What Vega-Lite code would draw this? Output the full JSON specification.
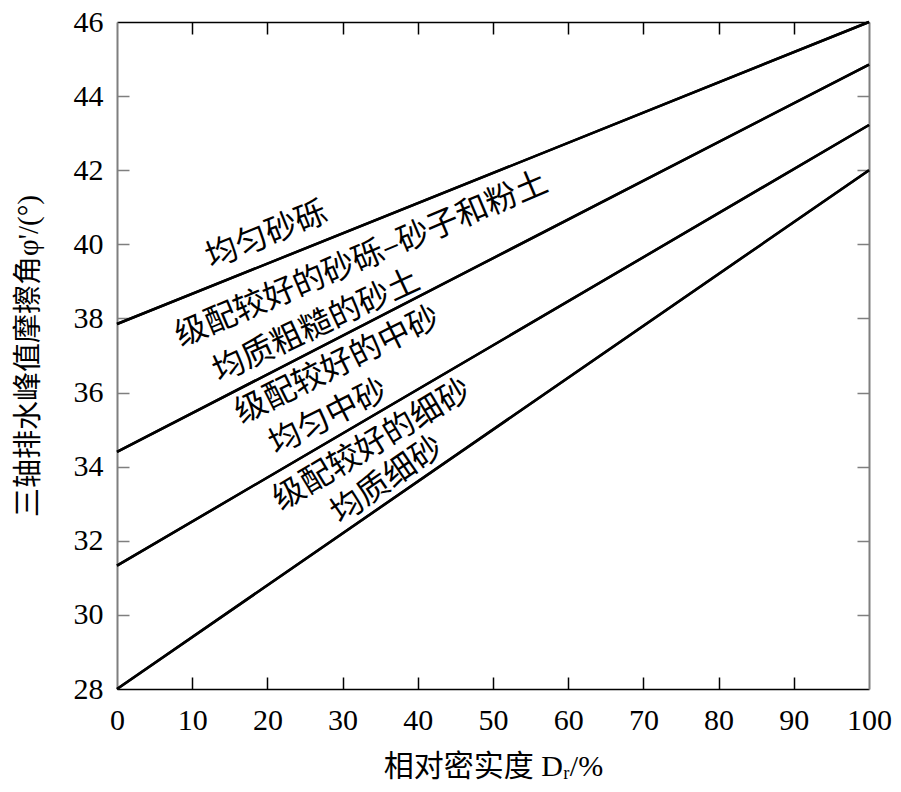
{
  "$schema": "https://vega.github.io/schema/vega-lite/v6.json",
  "width": 752,
  "height": 667,
  "autosize": {"type": "none"},
  "padding": {"left": 117, "top": 22, "right": 32, "bottom": 103},
  "background": "white",
  "config": {"view": {"stroke": null}},
  "datasets": {
    "lines": [
      {"s": "a", "x": 0, "y": 37.85}, {"s": "a", "x": 100, "y": 46},
      {"s": "b", "x": 0, "y": 34.4}, {"s": "b", "x": 100, "y": 44.85},
      {"s": "c", "x": 0, "y": 31.33}, {"s": "c", "x": 100, "y": 43.22},
      {"s": "d", "x": 0, "y": 28}, {"s": "d", "x": 100, "y": 42}
    ],
    "labels": [
      {"label": "均匀砂砾", "x": 19.9, "y": 40.25},
      {"label": "级配较好的砂砾–砂子和粉土", "x": 32.5, "y": 39.6},
      {"label": "均质粗糙的砂土", "x": 26.5, "y": 37.8},
      {"label": "级配较好的中砂", "x": 29.3, "y": 36.74},
      {"label": "均匀中砂", "x": 28.1, "y": 35.34},
      {"label": "级配较好的细砂", "x": 33.9, "y": 34.59},
      {"label": "均质细砂", "x": 35.9, "y": 33.64}
    ]
  },
  "layer": [
    {
      "data": {"name": "lines"},
      "mark": {"type": "line", "color": "black", "strokeWidth": 2.5},
      "encoding": {
        "x": {"field": "x", "type": "quantitative", "scale": {"domain": [0, 100], "nice": false},
          "axis": {"orient": "bottom", "values": [0,10,20,30,40,50,60,70,80,90,100], "grid": false, "ticks": false,
            "domainColor": "black", "domainWidth": 1.5,
            "labelFont": "Liberation Serif", "labelFontSize": 30, "labelColor": "black", "labelPadding": 16, "labelFlush": false,
            "title": "相对密实度 Dᵣ/%", "titleFont": "Liberation Serif, Noto Sans CJK SC", "titleFontSize": 30, "titleFontWeight": "normal", "titleColor": "black",
            "titleY": 77, "titleBaseline": "middle"}},
        "y": {"field": "y", "type": "quantitative", "scale": {"domain": [28, 46], "nice": false, "zero": false},
          "axis": {"orient": "left", "values": [28,30,32,34,36,38,40,42,44,46], "grid": false, "ticks": false,
            "domainColor": "#7f7f7f", "domainWidth": 2,
            "labelFont": "Liberation Serif", "labelFontSize": 30, "labelColor": "black", "labelPadding": 14, "labelFlush": false,
            "title": "三轴排水峰值摩擦角φ'/(°)", "titleFont": "Liberation Serif, Noto Sans CJK SC", "titleFontSize": 29, "titleFontWeight": "normal", "titleColor": "black",
            "titleX": -89, "titleBaseline": "middle"}},
        "detail": {"field": "s", "type": "nominal"}
      }
    },
    {
      "data": {"name": "lines"},
      "mark": {"type": "line", "color": "black", "strokeWidth": 2.5},
      "encoding": {
        "x": {"field": "x", "type": "quantitative",
          "axis": {"orient": "top", "grid": false, "labels": false, "ticks": false, "title": null,
            "domainColor": "black", "domainWidth": 1.5}},
        "y": {"field": "y", "type": "quantitative",
          "axis": {"orient": "right", "grid": false, "labels": false, "ticks": false, "title": null,
            "domainColor": "#7f7f7f", "domainWidth": 2}},
        "detail": {"field": "s", "type": "nominal"}
      }
    },
    {
      "data": {"name": "lines"},
      "mark": {"type": "line", "strokeOpacity": 0},
      "encoding": {
        "x": {"field": "x", "type": "quantitative",
          "axis": {"orient": "bottom", "offset": -12, "values": [10,20,30,40,50,60,70,80,90], "grid": false, "labels": false, "domain": false, "title": null,
            "tickColor": "black", "tickWidth": 1.5, "tickSize": 12}},
        "y": {"field": "y", "type": "quantitative",
          "axis": {"orient": "left", "offset": -12, "values": [30,32,34,36,38,40,42,44], "grid": false, "labels": false, "domain": false, "title": null,
            "tickColor": "#7f7f7f", "tickWidth": 1.5, "tickSize": 12}},
        "detail": {"field": "s", "type": "nominal"}
      }
    },
    {
      "data": {"name": "lines"},
      "mark": {"type": "line", "strokeOpacity": 0},
      "encoding": {
        "x": {"field": "x", "type": "quantitative",
          "axis": {"orient": "top", "offset": -12, "values": [10,20,30,40,50,60,70,80,90], "grid": false, "labels": false, "domain": false, "title": null,
            "tickColor": "black", "tickWidth": 1.5, "tickSize": 12}},
        "y": {"field": "y", "type": "quantitative",
          "axis": {"orient": "right", "offset": -12, "values": [30,32,34,36,38,40,42,44], "grid": false, "labels": false, "domain": false, "title": null,
            "tickColor": "#7f7f7f", "tickWidth": 1.5, "tickSize": 12}},
        "detail": {"field": "s", "type": "nominal"}
      }
    },
    {
      "data": {"name": "labels"},
      "transform": [{"filter": "datum.label === '均匀砂砾'"}],
      "mark": {"type": "text", "angle": 338, "font": "Noto Sans CJK SC", "fontSize": 32, "align": "center", "baseline": "middle", "color": "black"},
      "encoding": {"x": {"field": "x", "type": "quantitative", "axis": null}, "y": {"field": "y", "type": "quantitative", "axis": null}, "text": {"field": "label"}}
    },
    {
      "data": {"name": "labels"},
      "transform": [{"filter": "datum.label === '级配较好的砂砾–砂子和粉土'"}],
      "mark": {"type": "text", "angle": 337, "font": "Noto Sans CJK SC", "fontSize": 32, "align": "center", "baseline": "middle", "color": "black"},
      "encoding": {"x": {"field": "x", "type": "quantitative", "axis": null}, "y": {"field": "y", "type": "quantitative", "axis": null}, "text": {"field": "label"}}
    },
    {
      "data": {"name": "labels"},
      "transform": [{"filter": "datum.label === '均质粗糙的砂土'"}],
      "mark": {"type": "text", "angle": 335, "font": "Noto Sans CJK SC", "fontSize": 32, "align": "center", "baseline": "middle", "color": "black"},
      "encoding": {"x": {"field": "x", "type": "quantitative", "axis": null}, "y": {"field": "y", "type": "quantitative", "axis": null}, "text": {"field": "label"}}
    },
    {
      "data": {"name": "labels"},
      "transform": [{"filter": "datum.label === '级配较好的中砂'"}],
      "mark": {"type": "text", "angle": 333.5, "font": "Noto Sans CJK SC", "fontSize": 32, "align": "center", "baseline": "middle", "color": "black"},
      "encoding": {"x": {"field": "x", "type": "quantitative", "axis": null}, "y": {"field": "y", "type": "quantitative", "axis": null}, "text": {"field": "label"}}
    },
    {
      "data": {"name": "labels"},
      "transform": [{"filter": "datum.label === '均匀中砂'"}],
      "mark": {"type": "text", "angle": 333, "font": "Noto Sans CJK SC", "fontSize": 32, "align": "center", "baseline": "middle", "color": "black"},
      "encoding": {"x": {"field": "x", "type": "quantitative", "axis": null}, "y": {"field": "y", "type": "quantitative", "axis": null}, "text": {"field": "label"}}
    },
    {
      "data": {"name": "labels"},
      "transform": [{"filter": "datum.label === '级配较好的细砂'"}],
      "mark": {"type": "text", "angle": 329, "font": "Noto Sans CJK SC", "fontSize": 32, "align": "center", "baseline": "middle", "color": "black"},
      "encoding": {"x": {"field": "x", "type": "quantitative", "axis": null}, "y": {"field": "y", "type": "quantitative", "axis": null}, "text": {"field": "label"}}
    },
    {
      "data": {"name": "labels"},
      "transform": [{"filter": "datum.label === '均质细砂'"}],
      "mark": {"type": "text", "angle": 325.5, "font": "Noto Sans CJK SC", "fontSize": 32, "align": "center", "baseline": "middle", "color": "black"},
      "encoding": {"x": {"field": "x", "type": "quantitative", "axis": null}, "y": {"field": "y", "type": "quantitative", "axis": null}, "text": {"field": "label"}}
    }
  ],
  "resolve": {"axis": {"x": "independent", "y": "independent"}}
}
